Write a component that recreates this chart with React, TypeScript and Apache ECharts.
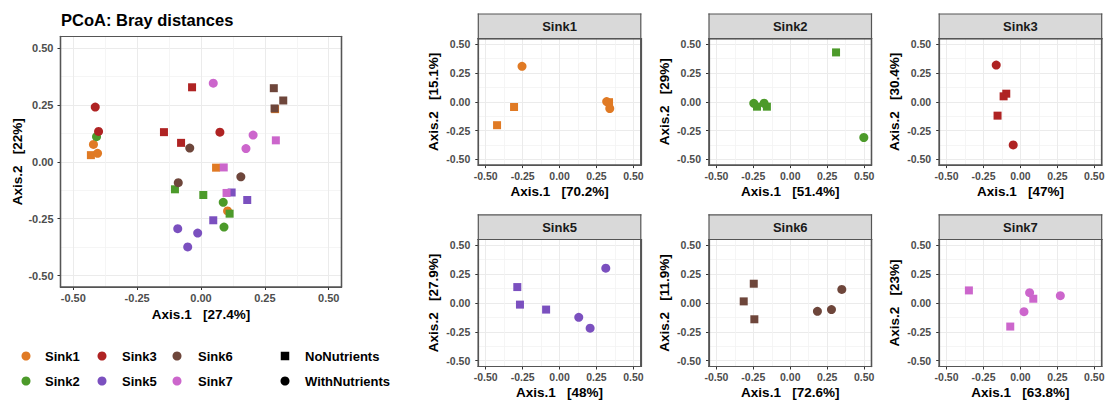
import React, { useEffect, useRef } from "react";
import * as echarts from "echarts";

type Pt = [number, number];

const FONT = '"Liberation Sans", Arial, Helvetica, sans-serif';

const sinkNames = ["Sink1", "Sink2", "Sink3", "Sink5", "Sink6", "Sink7"];
const sinkColors = ["#E07A24", "#4C9A2A", "#AF2323", "#7B50BF", "#6E463B", "#CC66CC"];
const tickValues = [-0.5, -0.25, 0, 0.25, 0.5];
const minorTickValues = [-0.375, -0.125, 0.125, 0.375];
const nutrientNames = ["NoNutrients", "WithNutrients"];

// ---- Main PCoA (all sinks) : NoNutrients = squares, WithNutrients = circles
const mainSink1No: Pt[] = [[-0.431, 0.029], [0.059, -0.026], [0.29, 0.231]];
const mainSink1With: Pt[] = [[-0.421, 0.076], [-0.405, 0.037], [0.104, -0.216]];
const mainSink2No: Pt[] = [[-0.102, -0.121], [0.009, -0.146], [0.112, -0.228]];
const mainSink2With: Pt[] = [[-0.409, 0.11], [0.087, -0.178], [0.09, -0.287]];
const mainSink3No: Pt[] = [[-0.035, 0.327], [-0.145, 0.13], [-0.078, 0.083]];
const mainSink3With: Pt[] = [[-0.414, 0.24], [-0.401, 0.133], [0.074, 0.13]];
const mainSink5No: Pt[] = [[0.12, -0.135], [0.181, -0.168], [0.048, -0.257]];
const mainSink5With: Pt[] = [[-0.091, -0.294], [-0.013, -0.313], [-0.052, -0.374]];
const mainSink6No: Pt[] = [[0.285, 0.323], [0.322, 0.269], [0.288, 0.234]];
const mainSink6With: Pt[] = [[-0.044, 0.06], [-0.089, -0.092], [0.156, -0.066]];
const mainSink7No: Pt[] = [[0.293, 0.094], [0.089, -0.025], [0.1, -0.137]];
const mainSink7With: Pt[] = [[0.048, 0.345], [0.204, 0.117], [0.176, 0.058]];

// ---- Facets (per-sink PCoA)
const facetSink1No: Pt[] = [[-0.308, -0.045], [-0.423, -0.203], [0.335, -0.003]];
const facetSink1With: Pt[] = [[-0.254, 0.309], [0.319, 0.002], [0.34, -0.058]];
const facetSink2No: Pt[] = [[0.31, 0.43], [-0.225, -0.042], [-0.158, -0.042]];
const facetSink2With: Pt[] = [[-0.247, -0.013], [-0.177, -0.012], [0.498, -0.31]];
const facetSink3No: Pt[] = [[-0.096, 0.071], [-0.114, 0.048], [-0.155, -0.12]];
const facetSink3With: Pt[] = [[-0.164, 0.32], [-0.049, -0.375]];
const facetSink5No: Pt[] = [[-0.286, 0.138], [-0.268, -0.014], [-0.091, -0.057]];
const facetSink5With: Pt[] = [[0.313, 0.302], [0.13, -0.124], [0.207, -0.218]];
const facetSink6No: Pt[] = [[-0.247, 0.167], [-0.315, 0.014], [-0.243, -0.141]];
const facetSink6With: Pt[] = [[0.184, -0.072], [0.279, -0.057], [0.349, 0.118]];
const facetSink7No: Pt[] = [[-0.349, 0.109], [0.087, 0.037], [-0.069, -0.204]];
const facetSink7With: Pt[] = [[0.062, 0.089], [0.27, 0.063], [0.024, -0.075]];

const mainXTitle = "Axis.1   [27.4%]";
const mainYTitle = "Axis.2   [22%]";
const facetXPct = ["70.2%", "51.4%", "47%", "48%", "72.6%", "63.8%"];
const facetYPct = ["15.1%", "29%", "30.4%", "27.9%", "11.9%", "23%"];

const mainNo = [mainSink1No, mainSink2No, mainSink3No, mainSink5No, mainSink6No, mainSink7No];
const mainWith = [mainSink1With, mainSink2With, mainSink3With, mainSink5With, mainSink6With, mainSink7With];
const facetNo = [facetSink1No, facetSink2No, facetSink3No, facetSink5No, facetSink6No, facetSink7No];
const facetWith = [facetSink1With, facetSink2With, facetSink3With, facetSink5With, facetSink6With, facetSink7With];

interface Panel {
  left: number;
  top: number;
  width: number;
  height: number;
  xName: string;
  yName: string;
  labelSize: number;
  xLabelMargin: number;
  yLabelMargin: number;
  xNameGap: number;
  yNameGap: number;
  strip?: string;
}

const BORDER = "#555555";

// thin filled bars used as the panel frame (ggplot panel.border)
function frameBars(x: number, y: number, w: number, h: number, color: string, z: number, t: number) {
  const bars = [
    [x - t / 2, y - t / 2, w + t, t],
    [x - t / 2, y + h - t / 2, w + t, t],
    [x - t / 2, y - t / 2, t, h + t],
    [x + w - t / 2, y - t / 2, t, h + t],
  ];
  return bars.map((b) => ({
    type: "rect", silent: true,
    shape: { x: b[0], y: b[1], width: b[2], height: b[3] },
    style: { fill: color },
    z,
  }));
}

function buildOption() {
  const colLeft = [478.3, 709, 939.2];
  const rowTop = [38.6, 239.5];
  const rowH = [126.5, 127];
  const panels: Panel[] = [
    {
      left: 60.5, top: 36.5, width: 281, height: 250.5,
      xName: mainXTitle, yName: mainYTitle, labelSize: 11,
      xLabelMargin: 5, yLabelMargin: 7, xNameGap: 19, yNameGap: 35,
    },
  ];
  sinkNames.forEach((s, i) => {
    const r = Math.floor(i / 3);
    const c = i % 3;
    panels.push({
      left: colLeft[c], top: rowTop[r], width: 162.5, height: rowH[r],
      xName: "Axis.1   [" + facetXPct[i] + "]",
      yName: "Axis.2   [" + facetYPct[i] + "]",
      labelSize: 10.5, xLabelMargin: 5, yLabelMargin: 8, xNameGap: 19, yNameGap: 38,
      strip: s,
    });
  });

  const grid: any[] = [];
  const xAxis: any[] = [];
  const yAxis: any[] = [];
  const graphic: any[] = [];
  const fmt = (v: number) => (Math.abs(v) < 1e-9 ? "0.00" : v.toFixed(2));
  const nameStyle = { fontWeight: "bold", fontSize: 13.5, color: "#000", fontFamily: FONT };
  const edgeLine = { show: true, onZero: false, lineStyle: { color: BORDER, width: 1.2 } };

  panels.forEach((p, i) => {
    grid.push({
      left: p.left, top: p.top, width: p.width, height: p.height,
      show: true, backgroundColor: "transparent", borderColor: BORDER, borderWidth: 1.2,
      containLabel: false, z: 5,
    });
    const labelStyle = {
      color: "#4D4D4D", fontWeight: "bold", fontSize: p.labelSize, fontFamily: FONT,
      formatter: fmt, customValues: tickValues,
    };
    xAxis.push({
      gridIndex: i, type: "value", min: -0.55, max: 0.55, position: "bottom",
      axisLine: edgeLine,
      axisTick: { show: true, length: 3, customValues: tickValues, lineStyle: { color: "#333", width: 1 } },
      axisLabel: { ...labelStyle, margin: p.xLabelMargin },
      splitLine: { show: true, lineStyle: { color: "#EBEBEB", width: 1 } },
      name: p.xName, nameLocation: "middle", nameGap: p.xNameGap, nameTextStyle: nameStyle,
    });
    xAxis.push({
      gridIndex: i, type: "value", min: -0.55, max: 0.55, position: "top",
      axisLine: edgeLine,
      axisTick: { show: false, customValues: minorTickValues },
      axisLabel: { show: false, customValues: minorTickValues },
      splitLine: { show: true, lineStyle: { color: "#F3F3F3", width: 0.8 } },
    });
    yAxis.push({
      gridIndex: i, type: "value", min: -0.55, max: 0.55, position: "left",
      axisLine: edgeLine,
      axisTick: { show: true, length: 3, customValues: tickValues, lineStyle: { color: "#333", width: 1 } },
      axisLabel: { ...labelStyle, margin: p.yLabelMargin },
      splitLine: { show: true, lineStyle: { color: "#EBEBEB", width: 1 } },
      name: p.yName, nameLocation: "middle", nameGap: p.yNameGap, nameTextStyle: nameStyle,
    });
    yAxis.push({
      gridIndex: i, type: "value", min: -0.55, max: 0.55, position: "right",
      axisLine: edgeLine,
      axisTick: { show: false, customValues: minorTickValues },
      axisLabel: { show: false, customValues: minorTickValues },
      splitLine: { show: true, lineStyle: { color: "#F3F3F3", width: 0.8 } },
    });
    if (p.strip) {
      const sh = 24.6;
      graphic.push({
        type: "rect", silent: true,
        shape: { x: p.left, y: p.top - sh, width: p.width, height: sh },
        style: { fill: "#D9D9D9" },
        z: 20,
      });
      graphic.push(...frameBars(p.left, p.top - sh, p.width, sh, BORDER, 21, 1.2));
      graphic.push({
        type: "text", silent: true,
        style: {
          text: p.strip, x: p.left + p.width / 2, y: p.top - sh / 2,
          align: "center", verticalAlign: "middle",
          fontSize: 13, fontWeight: "bold", fontFamily: FONT, fill: "#1A1A1A",
        },
        z: 21,
      });
    }
    graphic.push(...frameBars(p.left, p.top, p.width, p.height, BORDER, 40, 1.2));
  });

  const series: any[] = [];
  sinkNames.forEach((s, k) => {
    series.push({
      type: "scatter", name: s, xAxisIndex: 0, yAxisIndex: 0,
      symbol: "rect", symbolSize: 8, itemStyle: { color: sinkColors[k], opacity: 1 },
      data: mainNo[k],
    });
    series.push({
      type: "scatter", name: s, xAxisIndex: 0, yAxisIndex: 0,
      symbol: "circle", symbolSize: 9, itemStyle: { color: sinkColors[k], opacity: 1 },
      data: mainWith[k],
    });
  });
  sinkNames.forEach((s, k) => {
    const ai = 2 * (k + 1);
    series.push({
      type: "scatter", name: s, xAxisIndex: ai, yAxisIndex: ai,
      symbol: "rect", symbolSize: 8, itemStyle: { color: sinkColors[k], opacity: 1 },
      data: facetNo[k],
    });
    series.push({
      type: "scatter", name: s, xAxisIndex: ai, yAxisIndex: ai,
      symbol: "circle", symbolSize: 9, itemStyle: { color: sinkColors[k], opacity: 1 },
      data: facetWith[k],
    });
  });

  // ---- legend (drawn as graphics for exact ggplot-like placement)
  const legendText = { fontSize: 13, fontWeight: "bold", fontFamily: FONT, fill: "#000", verticalAlign: "middle", align: "left" };
  const rowY = [356, 381];
  const keyX = [26, 102, 177];
  const labelX = [45, 122, 198];
  const sinkOrder = [0, 2, 4, 1, 3, 5]; // column-major like ggplot's legend
  sinkOrder.forEach((k, idx) => {
    const r = Math.floor(idx / 3);
    const c = idx % 3;
    graphic.push({
      type: "circle", silent: true,
      shape: { cx: keyX[c], cy: rowY[r], r: 4.5 },
      style: { fill: sinkColors[k] },
      z: 30,
    });
    graphic.push({
      type: "text", silent: true,
      style: { ...legendText, text: sinkNames[k], x: labelX[c], y: rowY[r] },
      z: 30,
    });
  });
  graphic.push({
    type: "rect", silent: true,
    shape: { x: 285 - 4.25, y: rowY[0] - 4.25, width: 8.5, height: 8.5 },
    style: { fill: "#000" }, z: 30,
  });
  graphic.push({
    type: "circle", silent: true,
    shape: { cx: 285, cy: rowY[1], r: 4.5 },
    style: { fill: "#000" }, z: 30,
  });
  nutrientNames.forEach((n, r) => {
    graphic.push({
      type: "text", silent: true,
      style: { ...legendText, text: n, x: 305, y: rowY[r] },
      z: 30,
    });
  });

  return {
    animation: false,
    backgroundColor: "#fff",
    textStyle: { fontFamily: FONT },
    title: {
      text: "PCoA: Bray distances", left: 61, top: 11, padding: 0,
      textStyle: { fontSize: 16.5, fontWeight: "bold", color: "#000", fontFamily: FONT },
    },
    grid, xAxis, yAxis, series, graphic,
  };
}

export default function App() {
  const ref = useRef<HTMLDivElement>(null);
  useEffect(() => {
    document.body.style.margin = "0";
    const chart = echarts.init(ref.current!, null, { renderer: "svg" });
    chart.setOption(buildOption() as any);
    return () => chart.dispose();
  }, []);
  return <div ref={ref} style={{ width: 1109, height: 401 }} />;
}
